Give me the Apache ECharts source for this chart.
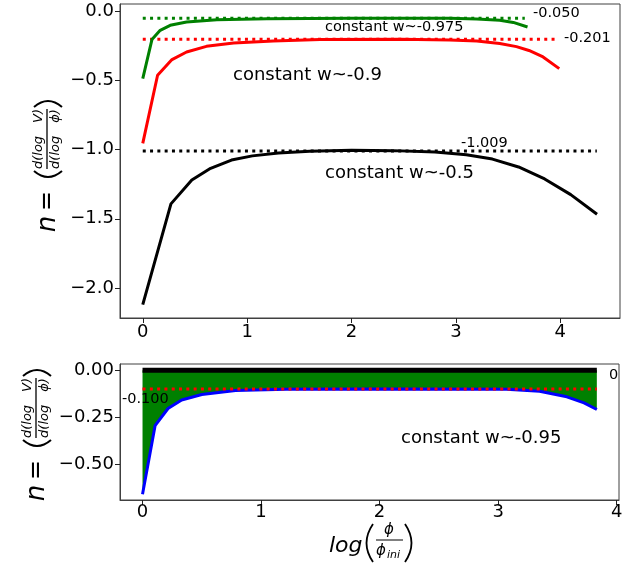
<!DOCTYPE html>
<html>
<head>
<meta charset="utf-8">
<script src="https://cdn.jsdelivr.net/npm/echarts@6/dist/echarts.min.js"></script>
<style>
html,body{margin:0;padding:0;background:#fff;}
#main{width:631px;height:567px;}
</style>
</head>
<body>
<div id="main"></div>
<script>
// top panel: n(log phi/phi_ini) for three constant-w runs
var blackX = [0, 0.27, 0.47, 0.65, 0.85, 1.05, 1.3, 1.6, 2.0, 2.4, 2.8, 3.1, 3.35, 3.6, 3.85, 4.1, 4.352];
var blackY = [-2.121, -1.392, -1.219, -1.135, -1.075, -1.045, -1.025, -1.012, -1.005, -1.007, -1.017, -1.037, -1.068, -1.125, -1.212, -1.325, -1.467];
var redX = [0, 0.142, 0.28, 0.42, 0.61, 0.87, 1.25, 1.7, 2.47, 2.94, 3.2, 3.42, 3.58, 3.7, 3.835, 3.99];
var redY = [-0.955, -0.462, -0.349, -0.294, -0.253, -0.229, -0.214, -0.204, -0.202, -0.207, -0.215, -0.232, -0.255, -0.283, -0.33, -0.414];
var greenX = [0, 0.088, 0.167, 0.263, 0.42, 0.71, 1.19, 2.0, 2.94, 3.2, 3.42, 3.55, 3.686];
var greenY = [-0.486, -0.204, -0.137, -0.101, -0.077, -0.060, -0.053, -0.050, -0.050, -0.055, -0.065, -0.080, -0.113];
// reference (dotted) levels of the top panel: green, red, black
var refTopVal = [-0.050, -0.201, -1.009];
var refTopEnd = [3.66, 3.98, 4.35];
var refTopColor = ['#008000', '#ff0000', '#000000'];

// bottom panel: constant w~-0.95
var blueX = [0, 0.106, 0.215, 0.33, 0.5, 0.785, 1.213, 2.0, 3.07, 3.35, 3.58, 3.725, 3.833];
var blueY = [-0.657, -0.294, -0.203, -0.158, -0.129, -0.108, -0.101, -0.100, -0.101, -0.111, -0.141, -0.173, -0.208];
var refBotVal = [0, -0.100];
var refBotEnd = 3.833;

var xTicks = [0, 1, 2, 3, 4];
var yTicksTop = [0, -0.5, -1.0, -1.5, -2.0];
var yTicksBot = [0, -0.25, -0.5];

var FONT = '"DejaVu Sans", sans-serif';

function pairs(xs, ys) {
	var out = [];
	for (var i = 0; i < xs.length; i++) out.push([xs[i], ys[i]]);
	return out;
}
function minusFmt(d) {
	return function (v) { return Number(v).toFixed(d).replace('-', '\u2212'); };
}
function txt(s, x, y, size, opt) {
	opt = opt || {};
	return {
		type: 'text', x: x, y: y, z: 100,
		style: {
			text: s, fill: '#000', fontSize: size, fontFamily: FONT,
			fontStyle: opt.italic ? 'italic' : 'normal',
			align: opt.align || 'left', textAlign: opt.align || 'left',
			verticalAlign: 'middle', textVerticalAlign: 'middle'
		}
	};
}
function paren(x0, w, h, left) {
	return {
		type: 'bezierCurve', z: 100,
		shape: left ? { x1: x0 + w, y1: -h, x2: x0 + w, y2: h, cpx1: x0 - w, cpy1: 0 }
		            : { x1: x0 - w, y1: -h, x2: x0 - w, y2: h, cpx1: x0 + w, cpy1: 0 },
		style: { stroke: '#000', lineWidth: 2, fill: null }
	};
}
// y axis title  n = ( d(log V) / d(log phi) ), drawn rotated
function yTitle(cx, cy) {
	return {
		type: 'group', x: cx, y: cy, rotation: Math.PI / 2, z: 100,
		children: [
			txt('n', -61, 0, 26, { italic: true, align: 'center' }),
			txt('=', -38, 0, 24, { align: 'center' }),
			paren(-14, 6, 14, true),
			{ type: 'line', z: 100, shape: { x1: -6, y1: -1, x2: 54, y2: -1 }, style: { stroke: '#000', lineWidth: 1.3 } },
			txt('d(log\u2002\u2002V)', 24, -9, 13, { italic: true, align: 'center' }),
			txt('d(log\u2002\u2002\u03d5)', 24, 8, 13, { italic: true, align: 'center' }),
			paren(62, 6, 14, false)
		]
	};
}
// x axis title  log( phi / phi_ini )
function xTitle() {
	return {
		type: 'group', x: 0, y: 0, z: 100,
		children: [
			txt('log', 329, 546, 22, { italic: true }),
			{
				type: 'bezierCurve', z: 100,
				shape: { x1: 373, y1: 524, x2: 373, y2: 562, cpx1: 360, cpy1: 543 },
				style: { stroke: '#000', lineWidth: 1.8, fill: null }
			},
			{ type: 'line', z: 100, shape: { x1: 376, y1: 540, x2: 403, y2: 540 }, style: { stroke: '#000', lineWidth: 1 } },
			txt('\u03d5', 389, 530, 15, { italic: true, align: 'center' }),
			txt('\u03d5', 376, 551, 15, { italic: true }),
			txt('ini', 387, 555, 11, { italic: true }),
			{
				type: 'bezierCurve', z: 100,
				shape: { x1: 405, y1: 524, x2: 405, y2: 562, cpx1: 418, cpy1: 543 },
				style: { stroke: '#000', lineWidth: 1.8, fill: null }
			}
		]
	};
}

function lineSeries(data, color, width, xi, dotted, z) {
	return {
		type: 'line', xAxisIndex: xi, yAxisIndex: xi,
		data: data, showSymbol: false, symbol: 'none', animation: false, z: z || 2,
		lineStyle: { color: color, width: width, type: dotted ? [3, 4.3] : 'solid' }
	};
}

function valAxis(gi, min, max, ticks, fmt, margin) {
	return {
		type: 'value', gridIndex: gi, min: min, max: max,
		axisLine: { show: true, onZero: false, lineStyle: { color: '#404040', width: 1 } },
		splitLine: { show: false },
		axisTick: { show: true, inside: false, length: 5, lineStyle: { color: '#222', width: 1 }, customValues: ticks },
		axisLabel: { customValues: ticks, formatter: fmt, fontSize: 18, color: '#000', fontFamily: FONT, margin: margin }
	};
}

var series = [];
for (var i = 0; i < refTopVal.length; i++) {
	series.push(lineSeries([[0, refTopVal[i]], [refTopEnd[i], refTopVal[i]]], refTopColor[i], 3, 0, true, 2));
}
series.push(lineSeries(pairs(blackX, blackY), '#000000', 3, 0, false, 3));
series.push(lineSeries(pairs(redX, redY), '#ff0000', 3, 0, false, 3));
series.push(lineSeries(pairs(greenX, greenY), '#008000', 3, 0, false, 3));

var blue = lineSeries(pairs(blueX, blueY), '#0000ff', 3, 1, false, 2);
blue.areaStyle = { color: '#008000', opacity: 1, origin: 0 };
series.push(blue);
series.push(lineSeries([[0, refBotVal[0]], [refBotEnd, refBotVal[0]]], '#000000', 5, 1, false, 3));
series.push(lineSeries([[0, refBotVal[1]], [refBotEnd, refBotVal[1]]], '#ff0000', 3, 1, true, 4));

var option = {
	backgroundColor: '#fff',
	animation: false,
	grid: [
		{ left: 120, top: 4, width: 500, height: 314, show: true, borderColor: '#404040', borderWidth: 1 },
		{ left: 120, top: 364, width: 499, height: 136, show: true, borderColor: '#404040', borderWidth: 1 }
	],
	xAxis: [
		valAxis(0, -0.218, 4.572, xTicks, minusFmt(0), 5),
		valAxis(1, -0.19, 4.02, xTicks, minusFmt(0), 3)
	],
	yAxis: [
		valAxis(0, -2.217, 0.053, yTicksTop, minusFmt(1), 6),
		valAxis(1, -0.688, 0.033, yTicksBot, minusFmt(2), 6)
	],
	series: series,
	graphic: [
		txt('-0.050', 533, 13, 14.5),
		txt('constant w~-0.975', 325, 27, 14.5),
		txt('-0.201', 564, 38, 14.5),
		txt('constant w~-0.9', 233, 75, 18),
		txt('-1.009', 461, 143, 14.5),
		txt('constant w~-0.5', 325, 173, 18),
		txt('0', 609, 375, 14.5),
		txt('-0.100', 122, 399, 14.5),
		txt('constant w~-0.95', 401, 438, 18),
		yTitle(48, 163),
		yTitle(37, 432),
		xTitle()
	]
};

var myChart = echarts.init(document.getElementById('main'));
myChart.setOption(option);
</script>
</body>
</html>
